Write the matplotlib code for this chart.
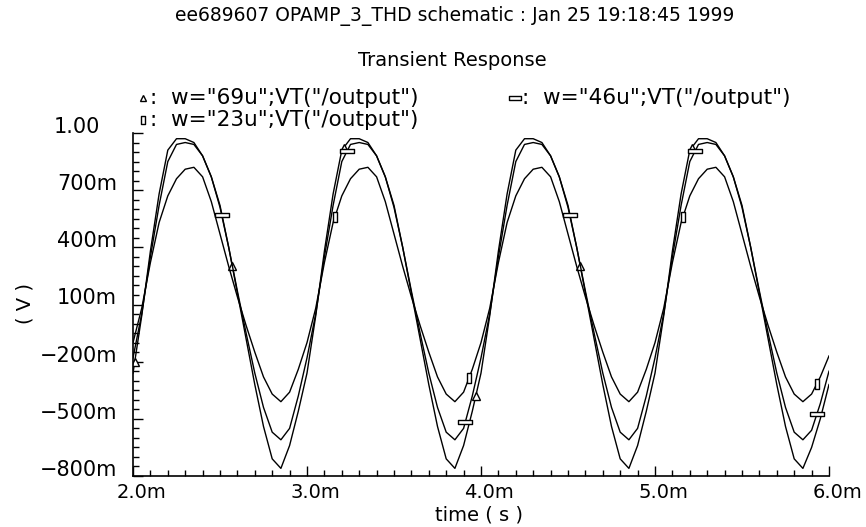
import matplotlib
matplotlib.use("Agg")
import matplotlib.pyplot as plt
import numpy as np
from matplotlib.lines import Line2D
from matplotlib.path import Path
from matplotlib.ticker import MultipleLocator
from matplotlib.transforms import ScaledTranslation, blended_transform_factory

plt.rcParams['font.family'] = ['DejaVu Sans']

# --- data ------------------------------------------------------------------
title_top = "ee689607 OPAMP_3_THD schematic : Jan 25 19:18:45 1999"
title_sub = "Transient Response"
labels = ['w="69u";VT("/output")', 'w="46u";VT("/output")', 'w="23u";VT("/output")']

x_ticks = [2.0, 3.0, 4.0, 5.0, 6.0]
x_ticklabels = ["2.0m", "3.0m", "4.0m", "5.0m", "6.0m"]
y_ticks = [1.0, 0.7, 0.4, 0.1, -0.2, -0.5, -0.8]
y_ticklabels = ["1.00", "700m", "400m", "100m", "\u2212200m", "\u2212500m", "\u2212800m"]

# sample grid, ms (2.00 .. 6.00 every 0.05)
time_ms = np.linspace(2.0, 6.0, 81)

v_69u = [-0.26, 0.04, 0.38, 0.68, 0.91, 0.97, 0.97, 0.95, 0.88, 0.77,
         0.62, 0.40, 0.16, -0.08, -0.32, -0.54, -0.71, -0.76, -0.64, -0.46,
         -0.26, 0.04, 0.38, 0.68, 0.91, 0.97, 0.97, 0.95, 0.88, 0.77,
         0.62, 0.40, 0.16, -0.08, -0.32, -0.54, -0.71, -0.76, -0.64, -0.46,
         -0.26, 0.04, 0.38, 0.68, 0.91, 0.97, 0.97, 0.95, 0.88, 0.77,
         0.62, 0.40, 0.16, -0.08, -0.32, -0.54, -0.71, -0.76, -0.64, -0.46,
         -0.26, 0.04, 0.38, 0.68, 0.91, 0.97, 0.97, 0.95, 0.88, 0.77,
         0.62, 0.40, 0.16, -0.08, -0.32, -0.54, -0.71, -0.76, -0.65, -0.50,
         -0.32]
v_46u = [-0.18, 0.05, 0.35, 0.62, 0.85, 0.94, 0.95, 0.94, 0.88, 0.77,
         0.61, 0.40, 0.17, -0.05, -0.26, -0.44, -0.57, -0.61, -0.55, -0.38,
         -0.18, 0.05, 0.35, 0.62, 0.85, 0.94, 0.95, 0.94, 0.88, 0.77,
         0.61, 0.40, 0.17, -0.05, -0.26, -0.44, -0.57, -0.61, -0.55, -0.38,
         -0.18, 0.05, 0.35, 0.62, 0.85, 0.94, 0.95, 0.94, 0.88, 0.77,
         0.61, 0.40, 0.17, -0.05, -0.26, -0.44, -0.57, -0.61, -0.55, -0.38,
         -0.18, 0.05, 0.35, 0.62, 0.85, 0.94, 0.95, 0.94, 0.88, 0.77,
         0.61, 0.40, 0.17, -0.05, -0.26, -0.44, -0.57, -0.61, -0.56, -0.42,
         -0.25]
v_23u = [-0.10, 0.08, 0.32, 0.53, 0.67, 0.76, 0.81, 0.82, 0.77, 0.64,
         0.47, 0.30, 0.14, -0.01, -0.15, -0.28, -0.37, -0.41, -0.36, -0.24,
         -0.10, 0.08, 0.32, 0.53, 0.67, 0.76, 0.81, 0.82, 0.77, 0.64,
         0.47, 0.30, 0.14, -0.01, -0.15, -0.28, -0.37, -0.41, -0.36, -0.24,
         -0.10, 0.08, 0.32, 0.53, 0.67, 0.76, 0.81, 0.82, 0.77, 0.64,
         0.47, 0.30, 0.14, -0.01, -0.15, -0.28, -0.37, -0.41, -0.36, -0.24,
         -0.10, 0.08, 0.32, 0.53, 0.67, 0.76, 0.81, 0.82, 0.77, 0.64,
         0.47, 0.30, 0.14, -0.01, -0.15, -0.28, -0.37, -0.41, -0.37, -0.28,
         -0.17]

# where the curve markers sit (ms)
mark_69u = [2.01, 2.57, 3.21, 3.97, 4.57, 5.21]
mark_46u = [2.51, 3.23, 3.91, 4.51, 5.23, 5.93]
mark_23u = [3.16, 3.93, 5.16, 5.93]

# --- marker shapes ----------------------------------------------------------
flat_box = Path([(-1, -0.3), (1, -0.3), (1, 0.3), (-1, 0.3), (-1, -0.3)],
                [Path.MOVETO, Path.LINETO, Path.LINETO, Path.LINETO, Path.CLOSEPOLY])
tall_box = Path([(-0.45, -1), (0.45, -1), (0.45, 1), (-0.45, 1), (-0.45, -1)],
                [Path.MOVETO, Path.LINETO, Path.LINETO, Path.LINETO, Path.CLOSEPOLY])
styles = [dict(marker="^", markersize=6), dict(marker=flat_box, markersize=10),
          dict(marker=tall_box, markersize=7)]

fig = plt.figure(figsize=(8.66, 5.27), dpi=100)
W, H = 866, 527
ax = fig.add_axes([133 / W, 1 - 476 / H, 696 / W, 343 / H])

series = [v_69u, v_46u, v_23u]
marks = [mark_69u, mark_46u, mark_23u]
for v, m, st in zip(series, marks, styles):
    ax.plot(time_ms, v, color="black", lw=1.0)
    ax.plot(m, np.interp(m, time_ms, v), linestyle="none", color="black",
            markerfacecolor="white", markeredgewidth=1.0, **st)

ax.set_xlim(2.0, 6.0)
ax.set_ylim(-0.8, 1.0)
ax.set_xticks(x_ticks)
ax.set_yticks(y_ticks)
ax.xaxis.set_minor_locator(MultipleLocator(0.1))
ax.yaxis.set_minor_locator(MultipleLocator(0.05))
ax.tick_params(which="both", direction="in", labelleft=False, labelbottom=False,
               width=1, color="black")
ax.tick_params(which="major", length=7)
ax.tick_params(which="minor", length=4)
for s in ("top", "right"):
    ax.spines[s].set_visible(False)
for s in ("left", "bottom"):
    ax.spines[s].set_linewidth(1.2)

def px(dx, dy):
    return ScaledTranslation(dx / 100, dy / 100, fig.dpi_scale_trans)

fs = 14
xt = blended_transform_factory(ax.transData, ax.transAxes)
for t, lab in zip(x_ticks, x_ticklabels):
    ax.text(t, 0, lab, transform=xt + px(8, -17), ha="center", va="center",
            fontsize=fs, clip_on=False)
yt = blended_transform_factory(ax.transAxes, ax.transData)
for i, (v, lab) in enumerate(zip(y_ticks, y_ticklabels)):
    shift = -33 if i == 0 else -16
    ax.text(0, v, lab, transform=yt + px(shift, 6), ha="right", va="center",
            fontsize=15, clip_on=False)

fig.text(479 / W, 1 - 515 / H, "time ( s )", ha="center", va="center", fontsize=fs)
fig.text(25 / W, 1 - 303 / H, "( V )", ha="center", va="center", fontsize=fs,
         rotation=90)

fig.text(455 / W, 1 - 16 / H, title_top, ha="center", va="center", fontsize=13.5)
fig.text(452 / W, 1 - 60 / H, title_sub, ha="center", va="center", fontsize=fs)

# legend, laid out like the simulator's
leg_pos = [(143, 98), (515, 98), (143, 120)]
for (lx, ly), lab, st in zip(leg_pos, labels, styles):
    ms = st["markersize"] * 0.8
    fig.add_artist(Line2D([lx / W], [1 - ly / H], transform=fig.transFigure,
                          marker=st["marker"], markersize=ms, color="black",
                          markerfacecolor="white", markeredgewidth=1.0,
                          linestyle="none"))
    fig.text((lx + 7) / W, 1 - ly / H, ":  " + lab, ha="left", va="center",
             fontsize=15.5)

fig.savefig("out.png", dpi=100)
